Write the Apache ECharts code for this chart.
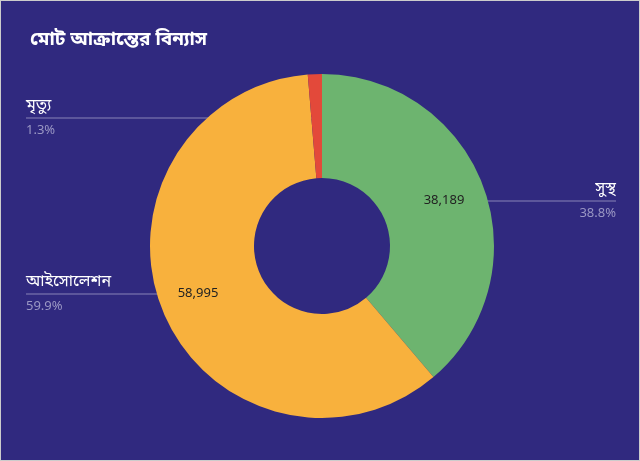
<!DOCTYPE html>
<html><head><meta charset="utf-8">
<script src="https://cdn.jsdelivr.net/npm/echarts@6/dist/echarts.min.js"></script>
<style>html,body{margin:0;background:#fff}#c{width:638px;height:459px;border:1px solid #ccc;background:#30297f}</style>
</head><body><div id="c"></div>
<script>
var names = ['সুস্থ', 'আইসোলেশন', 'মৃত্যু'];
var values = [38189, 58995, 1300];
var colors = ['#6db46f', '#f8b13d', '#e3493a'];

var font = '"Noto Sans Bengali", "Noto Sans", "DejaVu Sans", sans-serif';
var data = names.map(function(n, i) { return { name: n, value: values[i] }; });
// where each outer label sits: [x, lineY, align, lineEndX]
var spots = [[615, 200, 'right', 420], [25, 293, 'left', 200], [25, 117, 'left', 318]];
var chart = echarts.init(document.getElementById('c'));
chart.setOption({
	title: {
		text: 'মোট আক্রান্তের বিন্যাস',
		left: 24, top: 26,
		textStyle: { color: '#fff', fontSize: 19, fontWeight: 'bold', fontFamily: font }
	},
	color: colors,
	series: [{
		type: 'pie',
		center: [321, 245],
		radius: [68, 172],
		startAngle: 90,
		clockwise: true,
		data: data,
		label: {
			formatter: function(p) { return '{n|' + p.name + '}\n{p|' + p.percent.toFixed(1) + '%}'; },
			rich: {
				n: { color: '#fff', fontSize: 16, fontFamily: font, height: 26, verticalAlign: 'top' },
				p: { color: '#9a97c4', fontSize: 13, fontFamily: font, height: 22, verticalAlign: 'bottom' }
			}
		},
		labelLine: { show: true, lineStyle: { color: '#8884b8', width: 1 } },
		labelLayout: function(params) {
			var s = spots[params.dataIndex];
			return {
				x: s[0], y: s[1], align: s[2], verticalAlign: 'middle',
				labelLinePoints: [[s[3], s[1]], [s[3], s[1]], [s[0], s[1]]]
			};
		}
	}, {
		type: 'pie',
		center: [321, 245],
		radius: [68, 172],
		startAngle: 90,
		clockwise: true,
		silent: true,
		data: data,
		itemStyle: { color: 'transparent' },
		label: {
			position: 'inside',
			color: '#222',
			fontSize: 13,
			fontFamily: font,
			formatter: function(p) { return p.value > 5000 ? p.value.toLocaleString('en-US') : ''; }
		},
		labelLayout: function(params) {
			return params.dataIndex === 0 ? { x: 443, y: 200, align: 'center' } : { x: 197, y: 293, align: 'center' };
		}
	}]
});
</script></body></html>
